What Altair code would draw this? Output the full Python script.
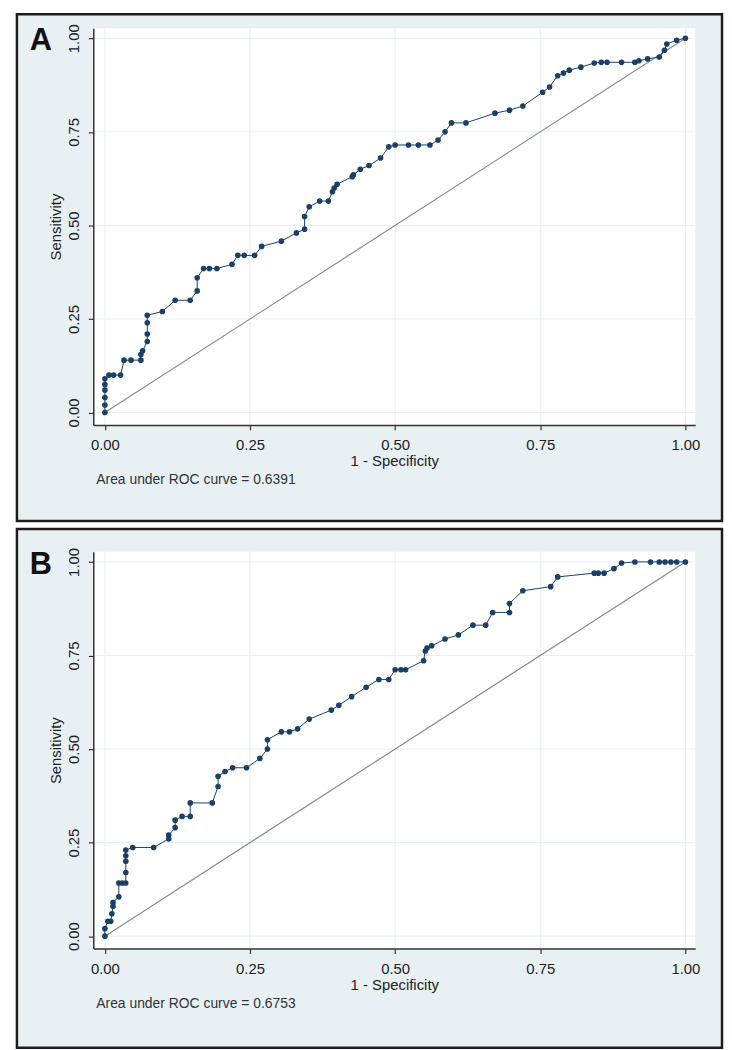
import altair as alt
import pandas as pd

# ---------------- data ----------------
A_fpr = [0, 0, 0, 0, 0, 0,
         0.007, 0.015, 0.027,
         0.033, 0.045, 0.062, 0.062, 0.065,
         0.073, 0.073, 0.073, 0.073,
         0.099, 0.121, 0.147, 0.159, 0.159,
         0.17, 0.18, 0.193, 0.219,
         0.229, 0.24, 0.258, 0.27, 0.304,
         0.33, 0.344, 0.344, 0.352,
         0.37, 0.385, 0.392, 0.395, 0.40,
         0.426, 0.428, 0.44, 0.455, 0.475,
         0.489, 0.50, 0.523, 0.54, 0.56,
         0.574, 0.586, 0.597, 0.622,
         0.672, 0.697, 0.72,
         0.754, 0.766, 0.78, 0.79, 0.80, 0.82,
         0.843, 0.855, 0.865, 0.89, 0.913,
         0.92, 0.935, 0.955, 0.964, 0.968, 0.985, 1.0]
A_tpr = [0, 0.02, 0.04, 0.06, 0.075, 0.09,
         0.10, 0.10, 0.10,
         0.14, 0.14, 0.14, 0.155, 0.165,
         0.19, 0.21, 0.24, 0.26,
         0.27, 0.30, 0.30, 0.325, 0.36,
         0.385, 0.385, 0.385, 0.396,
         0.42, 0.42, 0.42, 0.444, 0.458,
         0.48, 0.49, 0.524, 0.55,
         0.565, 0.565, 0.59, 0.60, 0.61,
         0.63, 0.635, 0.65, 0.66, 0.68,
         0.71, 0.715, 0.715, 0.715, 0.715,
         0.728, 0.75, 0.774, 0.774,
         0.80, 0.808, 0.819,
         0.856, 0.87, 0.90, 0.907, 0.915, 0.923,
         0.934, 0.936, 0.936, 0.936, 0.936,
         0.94, 0.945, 0.95, 0.968, 0.985, 0.995, 1.0]

B_fpr = [0, 0, 0.005, 0.01, 0.012, 0.014, 0.014,
         0.024, 0.024, 0.03, 0.036, 0.036, 0.036, 0.036, 0.036,
         0.048, 0.084, 0.11, 0.11, 0.121, 0.121,
         0.133, 0.147, 0.147, 0.185,
         0.195, 0.195, 0.207, 0.22, 0.244,
         0.267, 0.28, 0.28, 0.304, 0.318, 0.332, 0.352,
         0.39, 0.403, 0.425, 0.45,
         0.472, 0.489, 0.50, 0.51, 0.518,
         0.549, 0.552, 0.555, 0.563, 0.586, 0.609,
         0.634, 0.656, 0.668, 0.697, 0.697,
         0.72, 0.768, 0.78, 0.843, 0.85, 0.86, 0.877, 0.89,
         0.913, 0.94, 0.955, 0.965, 0.975, 0.985, 1.0]
B_tpr = [0, 0.02, 0.04, 0.04, 0.06, 0.08, 0.09,
         0.105, 0.142, 0.142, 0.142, 0.17, 0.20, 0.215, 0.23,
         0.237, 0.237, 0.26, 0.27, 0.29, 0.31,
         0.32, 0.32, 0.356, 0.356,
         0.40, 0.427, 0.44, 0.45, 0.45,
         0.475, 0.50, 0.525, 0.546, 0.546, 0.554, 0.58,
         0.604, 0.617, 0.64, 0.665,
         0.686, 0.686, 0.712, 0.712, 0.712,
         0.736, 0.762, 0.77, 0.776, 0.794, 0.805,
         0.831, 0.831, 0.865, 0.865, 0.889,
         0.923, 0.934, 0.96, 0.97, 0.97, 0.97, 0.982, 0.997,
         1.0, 1.0, 1.0, 1.0, 1.0, 1.0, 1.0]

tick_values = [0, 0.25, 0.5, 0.75, 1.0]
diag_x = [0, 1]
diag_y = [0, 1]
auc_notes = ["Area under ROC curve = 0.6391", "Area under ROC curve = 0.6753"]
panel_letters = ["A", "B"]

# ---------------- styling ----------------
W, H = 607, 400
XDOM = [-0.02, 1.017]
YDOM = [-0.033, 1.027]
NAVY = "#1a3f68"
BG = "#e8f0f3"
GRID = "#e6eef1"
FONT = "Liberation Sans"


def panel(fpr, tpr, letter, note, frame_top, frame_bot):
    df = pd.DataFrame({"fpr": fpr, "tpr": tpr, "i": list(range(len(fpr)))})
    diag = pd.DataFrame({"fpr": diag_x, "tpr": diag_y})
    grid = pd.DataFrame({"v": tick_values})
    xs = alt.Scale(domain=XDOM, nice=False, zero=False)
    ys = alt.Scale(domain=YDOM, nice=False, zero=False)
    xax = alt.Axis(values=tick_values, format=".2f", title="1 - Specificity",
                   labelPadding=8, titleY=41, titleBaseline="alphabetic",
                   labelOverlap=False, grid=False, zindex=2)
    yax = alt.Axis(values=tick_values, format=".2f", title="Sensitivity",
                   labelAngle=270, labelAlign="center", labelBaseline="bottom",
                   labelPadding=7, titleAngle=270, titleX=-33, titleY=H / 2,
                   titleAlign="center", titleBaseline="alphabetic",
                   labelOverlap=False, grid=False, zindex=2)

    one = alt.Data(values=[{}])
    frame = alt.Chart(one).mark_rect(fill=BG, stroke="#1c1c1c", strokeWidth=2.5).encode(
        x=alt.value(-77), x2=alt.value(W + 27),
        y=alt.value(frame_top), y2=alt.value(frame_bot))
    white = alt.Chart(one).mark_rect(fill="white").encode(
        x=alt.value(0), x2=alt.value(W), y=alt.value(0), y2=alt.value(H))
    vgrid = alt.Chart(grid).mark_rule(color=GRID, strokeWidth=1).encode(
        x=alt.X("v:Q", scale=xs, axis=xax))
    hgrid = alt.Chart(grid).mark_rule(color=GRID, strokeWidth=1).encode(
        y=alt.Y("v:Q", scale=ys, axis=yax))
    ref = alt.Chart(diag).mark_line(color="#8a8a8a", strokeWidth=1.2).encode(
        x=alt.X("fpr:Q", scale=xs, axis=xax),
        y=alt.Y("tpr:Q", scale=ys, axis=yax))
    curve = alt.Chart(df).mark_line(color=NAVY, strokeWidth=1).encode(
        x="fpr:Q", y="tpr:Q", order="i:Q")
    pts = alt.Chart(df).mark_point(filled=True, shape="circle", size=32,
                                   color=NAVY, opacity=1).encode(
        x="fpr:Q", y="tpr:Q")
    letter_t = alt.Chart(one).mark_text(text=letter, fontSize=31, fontWeight="bold",
                                        font=FONT, align="center", baseline="middle",
                                        color="#111").encode(
        x=alt.value(-53), y=alt.value(13))
    note_t = alt.Chart(one).mark_text(text=note, fontSize=14, font=FONT,
                                      align="left", baseline="alphabetic",
                                      color="#333").encode(
        x=alt.value(3), y=alt.value(460))
    return alt.layer(frame, white, vgrid, hgrid, ref, curve, pts,
                     letter_t, note_t).properties(width=W, height=H)


pA = panel(A_fpr, A_tpr, panel_letters[0], auc_notes[0], -14, 497)
pB = panel(B_fpr, B_tpr, panel_letters[1], auc_notes[1], -23, 500)

chart = alt.vconcat(pA, pB, spacing=4).configure(
    padding={"left": 7, "top": 0, "right": 0, "bottom": 0},
    background="white",
).configure_view(stroke=None).configure_axis(
    domainColor="#333333", domainWidth=1.5, tickColor="#333333", tickSize=5,
    tickWidth=1.2,
    labelFont=FONT, labelFontSize=15, labelColor="#222222",
    titleFont=FONT, titleFontSize=15, titleFontWeight="normal", titleColor="#222222",
)

chart.save("out.html", embed_options={"renderer": "svg", "actions": False})
